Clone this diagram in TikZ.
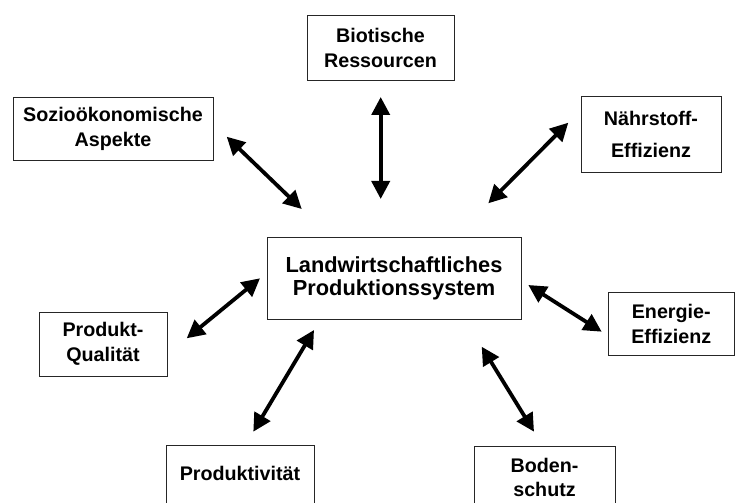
\documentclass[tikz,border=0pt]{standalone}
\usepackage{fontspec}
\setmainfont{Liberation Sans}
\usetikzlibrary{arrows.meta}
\begin{document}
\begin{tikzpicture}[x=1bp,y=-1bp,
  box/.style={draw=black!85, line width=0.9bp, inner sep=0pt, align=center,
    font=\bfseries\fontsize{19.7bp}{25bp}\selectfont},
  titlebox/.style={box, font=\bfseries\fontsize{21.8bp}{23bp}\selectfont},
  dbl/.style={line width=3.8bp,
    {Triangle[length=18bp,width=18bp]}-{Triangle[length=18bp,width=18bp]}}]
\useasboundingbox (0,0) rectangle (735,503);
\clip (0,0) rectangle (735,503);
\fill[white] (0,0) rectangle (735,503);

% boxes
\node[titlebox, minimum width=254bp, minimum height=82bp] (lps) at (394,278)
  {Landwirtschaftliches\\Produktionssystem};
\node[box, minimum width=147bp, minimum height=65bp] (bio) at (380.5,47.5)
  {Biotische\\Ressourcen};
\node[box, minimum width=200bp, minimum height=63bp] (sozio) at (113,128.5)
  {Sozioökonomische\\Aspekte};
\node[box, minimum width=140bp, minimum height=76bp] (naehr) at (651,134)
  {Nährstoff-\\[7bp]Effizienz};
\node[box, minimum width=128bp, minimum height=64bp] (prodq) at (103,344)
  {Produkt-\\Qualität};
\node[box, minimum width=126.5bp, minimum height=63bp] (energie) at (671.25,323.5)
  {Energie-\\Effizienz};
\node[box, minimum width=148bp, minimum height=66bp, text height=14bp, text depth=10bp]
  (produktiv) at (240,478) {Produktivität};
\node[box, minimum width=141bp, minimum height=63.6bp,
  font=\bfseries\fontsize{19.7bp}{24bp}\selectfont] (boden) at (544.5,477.8)
  {Boden-\\schutz};

% arrow end points
\coordinate (bioA) at (380.7,97);
\coordinate (bioB) at (380.7,199);
\coordinate (sozA) at (226.7,136.7);
\coordinate (sozB) at (301.7,209);
\coordinate (naeA) at (568.3,122.7);
\coordinate (naeB) at (488.3,203.3);
\coordinate (proA) at (186.7,338.3);
\coordinate (proB) at (260,278.3);
\coordinate (eneA) at (528.3,285);
\coordinate (eneB) at (601.7,331.7);
\coordinate (pvA) at (253.3,431.7);
\coordinate (pvB) at (314,330);
\coordinate (bodA) at (481.7,346.7);
\coordinate (bodB) at (534,431.7);

\draw[dbl] (bioA) -- (bioB);
\draw[dbl] (sozA) -- (sozB);
\draw[dbl] (naeA) -- (naeB);
\draw[dbl] (proA) -- (proB);
\draw[dbl] (eneA) -- (eneB);
\draw[dbl] (pvA) -- (pvB);
\draw[dbl] (bodA) -- (bodB);
\end{tikzpicture}
\end{document}
